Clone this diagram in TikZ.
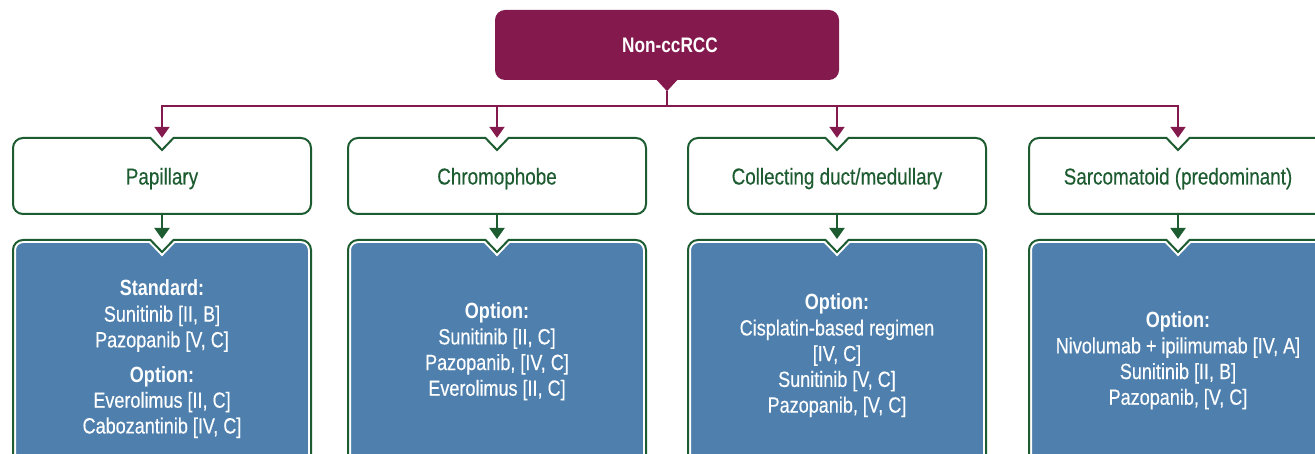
\documentclass[tikz,border=0pt]{standalone}
\usepackage{fontspec}
\setmainfont{Liberation Sans}[FakeStretch=0.82,UprightFeatures={FakeBold=0.35}]
\usetikzlibrary{arrows.meta,calc}
\definecolor{mag}{HTML}{84194E}
\definecolor{grn}{HTML}{1D5B30}
\definecolor{blu}{HTML}{4E7FAD}
\newcommand\notchshape[3]{%
 \path[#3] let \p1=#1, \p2=#2, \p3=($#1!0.5!#2$) in
 (\x3+11.5pt,\y1) -- (\x2-10pt,\y1) arc[start angle=90,end angle=0,radius=10pt]
 -- (\x2,\y2+10pt) arc[start angle=0,end angle=-90,radius=10pt]
 -- (\x1+10pt,\y2) arc[start angle=-90,end angle=-180,radius=10pt]
 -- (\x1,\y1-10pt) arc[start angle=180,end angle=90,radius=10pt]
 -- (\x3-11.5pt,\y1) -- (\x3,\y1-12pt) -- cycle;}
\newcommand\typetext[1]{\raisebox{-8.5pt}[0pt][0pt]{#1}}
\tikzset{
 whitebox/.style={fill=white,draw=grn,line width=2pt},
 bluehalo/.style={fill=blu,draw=white,line width=6pt},
 blueline/.style={draw=grn,line width=2pt},
 rootbox/.style={fill=mag,rounded corners=10pt,minimum width=344pt,minimum height=70pt,inner sep=0pt,text=white,font=\bfseries\fontsize{21}{25.7}\selectfont},
 typebox/.style={minimum width=298pt,minimum height=76pt,inner sep=0pt,text=grn,font=\fontsize{23}{25.7}\selectfont},
 txt/.style={align=center,text=white,inner sep=0pt,font=\fontsize{22}{25.7}\selectfont},
 magline/.style={draw=mag,line width=2pt},
 magarrow/.style={draw=mag,line width=2pt,-{Triangle[width=15pt,length=11pt]}},
 grnarrow/.style={draw=grn,line width=2pt,-{Triangle[width=15pt,length=11pt]}},
}
\begin{document}
\begin{tikzpicture}[x=1pt,y=-1pt]
\clip (0,0) rectangle (1315,454);
\fill[white] (0,0) rectangle (1315,454);
% root
\node[rootbox] (root) at (667,45) {\hspace*{6pt}Non-ccRCC};
\fill[mag] ([xshift=-11pt,yshift=1pt]root.south) -- ([yshift=-11pt]root.south) -- ([xshift=11pt,yshift=1pt]root.south) -- cycle;
\coordinate (roottip) at ([yshift=-11pt]root.south);
\coordinate (bus) at ($(roottip)+(0,15)$);
% type boxes
\notchshape{(13,138)}{(311,214)}{whitebox}
\notchshape{(348,138)}{(646,214)}{whitebox}
\notchshape{(688,138)}{(986,214)}{whitebox}
\notchshape{(1029,138)}{(1327,214)}{whitebox}
% blue boxes
\notchshape{(13,240)}{(311,480)}{bluehalo}
\notchshape{(13,240)}{(311,480)}{blueline}
\notchshape{(348,240)}{(646,480)}{bluehalo}
\notchshape{(348,240)}{(646,480)}{blueline}
\notchshape{(688,240)}{(986,480)}{bluehalo}
\notchshape{(688,240)}{(986,480)}{blueline}
\notchshape{(1029,240)}{(1327,480)}{bluehalo}
\notchshape{(1029,240)}{(1327,480)}{blueline}
% nodes
\node[typebox] (pap) at (162,176) {\typetext{Papillary}};
\node[typebox] (chr) at (497,176) {\typetext{Chromophobe}};
\node[typebox] (col) at (837,176) {\typetext{Collecting duct/medullary}};
\node[typebox] (sar) at (1178,176) {\typetext{Sarcomatoid (predominant)}};
\coordinate (papB) at (162,239);
\coordinate (chrB) at (497,239);
\coordinate (colB) at (837,239);
\coordinate (sarB) at (1178,239);
\node[txt] (papT) at (162,359) {\textbf{Standard:}\\Sunitinib [II, B]\\Pazopanib [V, C]\\[9pt]\textbf{Option:}\\Everolimus [II, C]\\Cabozantinib [IV, C]};
\node[txt] (chrT) at (497,351.5) {\textbf{Option:}\\Sunitinib [II, C]\\Pazopanib, [IV, C]\\Everolimus [II, C]};
\node[txt] (colT) at (837,355.5) {\textbf{Option:}\\Cisplatin-based regimen\\{}[IV, C]\\Sunitinib [V, C]\\Pazopanib, [V, C]};
\node[txt] (sarT) at (1178,360.5) {\textbf{Option:}\\Nivolumab + ipilimumab [IV, A]\\Sunitinib [II, B]\\Pazopanib, [V, C]};
% connectors
\draw[magline] (roottip) -- (bus);
\draw[magline,line cap=rect] (bus -| pap) -- (bus -| sar);
\foreach \n in {pap,chr,col,sar} {
 \draw[magarrow] (bus -| \n) -- (\n.north);
 \draw[grnarrow] (\n.south) -- (\n B);
}
\end{tikzpicture}
\end{document}
